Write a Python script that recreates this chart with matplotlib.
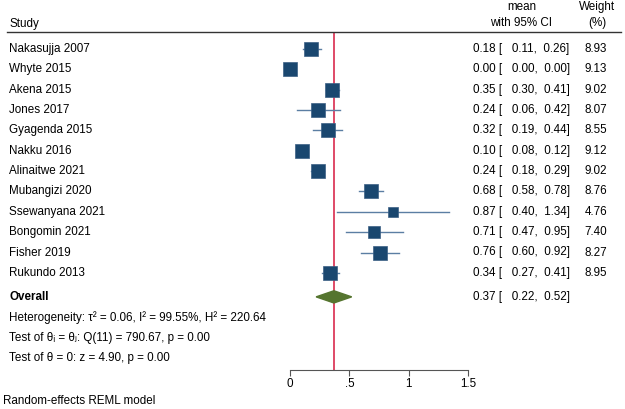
import matplotlib
matplotlib.use("Agg")
import matplotlib.pyplot as plt
from matplotlib.patches import Polygon
import numpy as np

plt.rcParams['font.family'] = ['Liberation Sans', 'DejaVu Sans']

studies = ["Nakasujja 2007", "Whyte 2015", "Akena 2015", "Jones 2017", "Gyagenda 2015",
           "Nakku 2016", "Alinaitwe 2021", "Mubangizi 2020", "Ssewanyana 2021",
           "Bongomin 2021", "Fisher 2019", "Rukundo 2013"]
mean = [0.18, 0.00, 0.35, 0.24, 0.32, 0.10, 0.24, 0.68, 0.87, 0.71, 0.76, 0.34]
lower = [0.11, 0.00, 0.30, 0.06, 0.19, 0.08, 0.18, 0.58, 0.40, 0.47, 0.60, 0.27]
upper = [0.26, 0.00, 0.41, 0.42, 0.44, 0.12, 0.29, 0.78, 1.34, 0.95, 0.92, 0.41]
weight = [8.93, 9.13, 9.02, 8.07, 8.55, 9.12, 9.02, 8.76, 4.76, 7.40, 8.27, 8.95]
overall = (0.37, 0.22, 0.52)
stats_lines = ["Heterogeneity: τ² = 0.06, I² = 99.55%, H² = 220.64",
               "Test of θᵢ = θⱼ: Q(11) = 790.67, p = 0.00",
               "Test of θ = 0: z = 4.90, p = 0.00"]
xticks = [0, 0.5, 1, 1.5]
xticklabels = ["0", ".5", "1", "1.5"]

W, H = 625, 409
fig = plt.figure(figsize=(W / 100, H / 100), dpi=100)
fig.patch.set_facecolor("white")

# plot region in pixels
x0, x1 = 290, 468
ytop, ybot = 32, 370
row0, step = 49, 20.35
ax = fig.add_axes([x0 / W, 1 - ybot / H, (x1 - x0) / W, (ybot - ytop) / H])
ax.set_xlim(0, 1.5)
ax.set_ylim((ybot - row0) / step, (ytop - row0) / step)

n = len(studies)
ys = np.arange(n)
y_overall = n + 0.18
y_stats = y_overall + 1 + np.arange(len(stats_lines))

fs = 8.4
navy = "#1a476f"
ci_col = "#5b7ea3"

for i in range(n):
    ax.plot([lower[i], upper[i]], [ys[i], ys[i]], color=ci_col, lw=1.0, zorder=2)
    side = 10.2 * np.sqrt(weight[i] / 9.13)
    ax.plot(mean[i], ys[i], marker="s", ms=side, color=navy, mec="#3b5f85",
            mew=0.5, zorder=3, ls="none", clip_on=False)

m, lo, hi = overall
dh = 0.3
ax.add_patch(Polygon([[lo, y_overall], [m, y_overall - dh], [hi, y_overall], [m, y_overall + dh]],
                     closed=True, color="#55752f", zorder=3))
ax.axvline(m, color="#d6193e", lw=1.1, zorder=1)

for s in ["top", "right", "left"]:
    ax.spines[s].set_visible(False)
ax.spines["bottom"].set_color("#555555")
ax.spines["bottom"].set_linewidth(0.8)
ax.set_yticks([])
ax.set_xticks(xticks)
ax.set_xticklabels(xticklabels, fontsize=fs)
ax.tick_params(axis="x", length=4, width=0.8, color="#555555", pad=2)
ax.set_facecolor("none")

tr = ax.get_yaxis_transform()  # x in axes coords, y in data
def fx(px):
    return (px - x0) / (x1 - x0)

for i in range(n):
    ax.text(fx(9), ys[i], studies[i], fontsize=fs, va="center", ha="left",
            transform=tr, clip_on=False)
    ax.text(fx(473), ys[i], f"{mean[i]:.2f} [   {lower[i]:.2f},  {upper[i]:.2f}]",
            fontsize=fs, va="center", ha="left", transform=tr, clip_on=False)
    ax.text(fx(607), ys[i], f"{weight[i]:.2f}", fontsize=fs, va="center", ha="right",
            transform=tr, clip_on=False)

ax.text(fx(9), y_overall, "Overall", fontsize=fs, fontweight="bold", va="center",
        ha="left", transform=tr, clip_on=False)
ax.text(fx(473), y_overall, f"{m:.2f} [   {lo:.2f},  {hi:.2f}]", fontsize=fs,
        va="center", ha="left", transform=tr, clip_on=False)
for yy, s in zip(y_stats, stats_lines):
    ax.text(fx(9), yy, s, fontsize=fs, va="center", ha="left", transform=tr, clip_on=False)

# header
fig.text(9 / W, 1 - 24 / H, "Study", fontsize=fs, va="center", ha="left")
fig.text(522 / W, 1 - 7 / H, "mean", fontsize=fs, va="center", ha="center")
fig.text(521 / W, 1 - 23 / H, "with 95% CI", fontsize=fs, va="center", ha="center")
fig.text(597 / W, 1 - 7 / H, "Weight", fontsize=fs, va="center", ha="center")
fig.text(597 / W, 1 - 23 / H, "(%)", fontsize=fs, va="center", ha="center")
fig.add_artist(plt.Line2D([7 / W, 621 / W], [1 - 32 / H, 1 - 32 / H], color="#333333", lw=1.0))

fig.text(3 / W, 1 - 401 / H, "Random-effects REML model", fontsize=fs, va="center", ha="left")

fig.savefig("out.png", dpi=100, facecolor="white")
